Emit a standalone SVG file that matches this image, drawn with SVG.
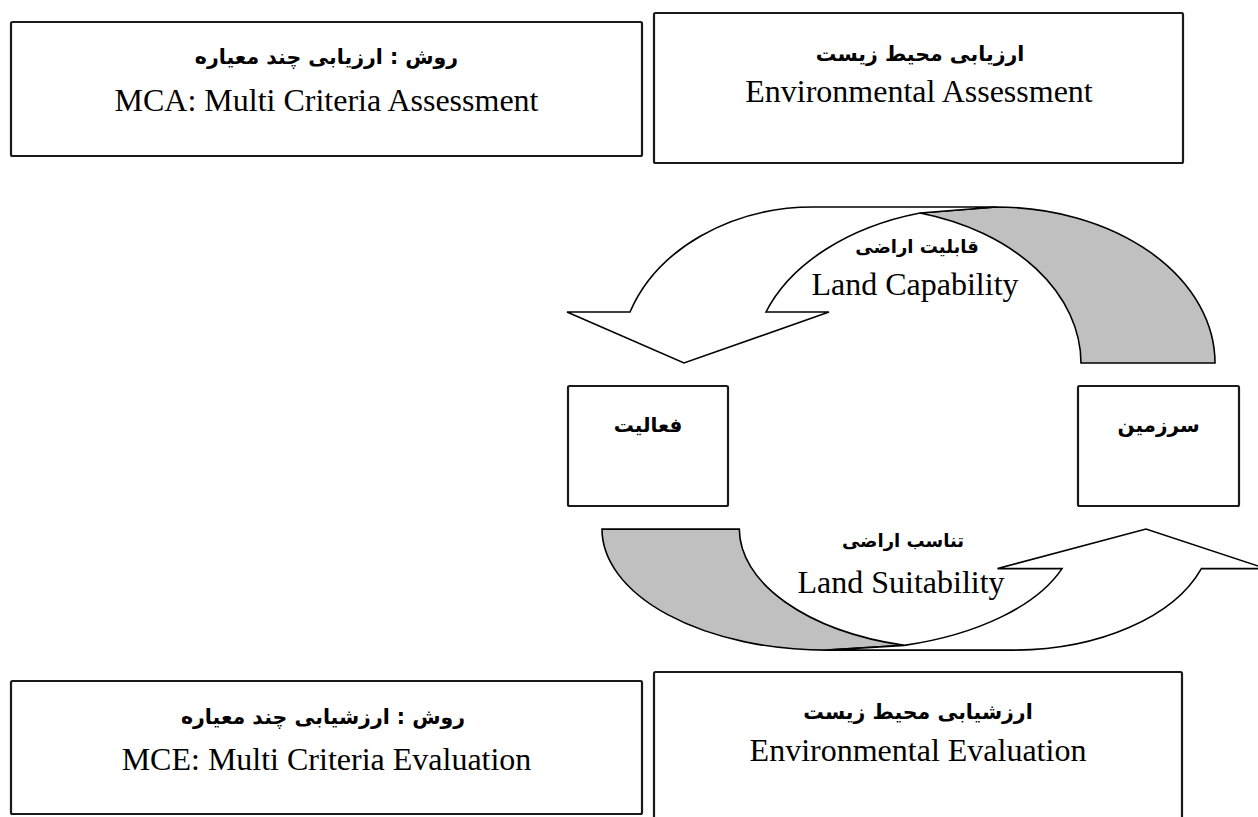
<svg xmlns="http://www.w3.org/2000/svg" width="1258" height="817" viewBox="0 0 1258 817">
<style>
.box{fill:#fff;stroke:#1a1a1a;stroke-width:2.2}
.en{font-family:"Liberation Serif","Times New Roman",serif;font-size:32px;fill:#000;text-anchor:middle}
.fa{font-family:"DejaVu Sans",sans-serif;font-weight:bold;font-size:20.5px;fill:#000;text-anchor:middle}
.fab{font-family:"DejaVu Sans",sans-serif;font-weight:bold;font-size:20px;fill:#000;text-anchor:middle}
.fal{font-family:"DejaVu Sans",sans-serif;font-weight:bold;font-size:18px;fill:#000;text-anchor:middle}
.band{fill:#fff;stroke:#000;stroke-width:1.6;stroke-linejoin:miter}
.back{fill:#c0c0c0;stroke:#000;stroke-width:1.6}
</style>
<rect width="1258" height="817" fill="#fff"/>
<g id="connectors">
  <g id="capability-arrow">
    <path class="back" d="M920,213 L996,207 A219 156 0 0 1 1215,363 L1081,363 A219 156 0 0 0 920,213 Z"/>
    <path class="band" d="M630,312 A194 156 0 0 1 813,207 L996,207 L920,213 A230 156 0 0 0 766,312 L829,312 L684,363 L567,312 Z"/>
    <text class="fal" x="917" y="253" direction="rtl">قابلیت اراضی</text>
    <text class="en" x="915" y="295">Land Capability</text>
  </g>
  <g id="suitability-arrow">
    <path class="back" d="M904.3,645.4 L826.4,650.1 A224.4 121 0 0 1 602,529.1 L739.3,529.1 A224.4 121 0 0 0 904.3,645.4 Z"/>
    <path class="band" d="M1201.4,568.6 A198.8 121 0 0 1 1013.9,650.1 L826.4,650.1 L904.3,645.4 A235.6 121 0 0 0 1062,568.6 L997.5,568.6 L1146,529.1 L1265.9,568.6 Z"/>
    <text class="fal" x="903" y="547" direction="rtl">تناسب اراضی</text>
    <text class="en" x="901" y="593">Land Suitability</text>
  </g>
</g>
<g id="mca">
  <rect class="box" x="11" y="22" width="631" height="134" rx="1.5"/>
  <text class="fa" x="326.5" y="64" direction="rtl">روش : ارزیابی چند معیاره</text>
  <text class="en" x="326.5" y="111">MCA: Multi Criteria Assessment</text>
</g>
<g id="env-assessment">
  <rect class="box" x="654" y="13" width="529" height="150" rx="1.5"/>
  <text class="fa" x="920" y="61" direction="rtl">ارزیابی محیط زیست</text>
  <text class="en" x="919" y="102">Environmental Assessment</text>
</g>
<g id="activity">
  <rect class="box" x="568" y="386" width="160" height="120" rx="1.5"/>
  <text class="fab" x="648" y="432" direction="rtl">فعالیت</text>
</g>
<g id="land">
  <rect class="box" x="1078" y="386" width="161" height="120" rx="1.5"/>
  <text class="fab" x="1158.5" y="432" direction="rtl">سرزمین</text>
</g>
<g id="mce">
  <rect class="box" x="11" y="681" width="631" height="133" rx="1.5"/>
  <text class="fa" x="323" y="724" direction="rtl">روش : ارزشیابی چند معیاره</text>
  <text class="en" x="326.5" y="770">MCE: Multi Criteria Evaluation</text>
</g>
<g id="env-evaluation">
  <rect class="box" x="654" y="672" width="528" height="160" rx="1.5"/>
  <text class="fa" x="918" y="719" direction="rtl">ارزشیابی محیط زیست</text>
  <text class="en" x="918" y="761">Environmental Evaluation</text>
</g>
</svg>
